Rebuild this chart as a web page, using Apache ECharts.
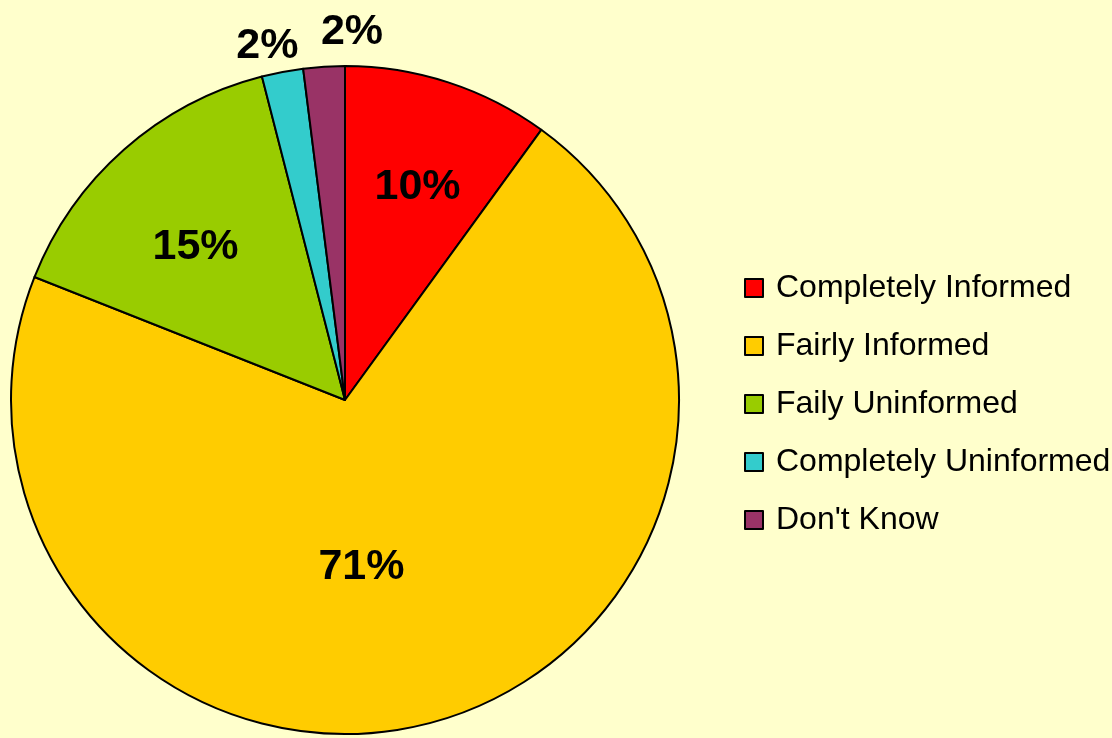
<!DOCTYPE html>
<html>
<head>
<meta charset="utf-8">
<script src="https://cdn.jsdelivr.net/npm/echarts@6/dist/echarts.min.js"></script>
<style>
  html, body { margin: 0; padding: 0; background: #FFFFCC; }
  #chart { width: 1112px; height: 738px; }
</style>
</head>
<body>
<div id="chart"></div>
<script>
const categories = ['Completely Informed', 'Fairly Informed', 'Faily Uninformed', 'Completely Uninformed', "Don't Know"];
const values = [10, 71, 15, 2, 2];
const colors = ['#FF0000', '#FFCC00', '#99CC00', '#33CCCC', '#993366'];

// label nudges (px) so the percentages sit where the original puts them
const labelShift = [[20, -51], [-31, 4], [-37, -25], [21, -26], [64, -35]];
const outsideIdx = [3, 4];

const chart = echarts.init(document.getElementById('chart'));

chart.setOption({
  backgroundColor: '#FFFFCC',
  textStyle: { fontFamily: 'Liberation Sans, Arial, sans-serif' },
  legend: {
    orient: 'vertical',
    left: 739,
    top: 267,
    icon: 'rect',
    itemWidth: 18,
    itemHeight: 18,
    itemGap: 26,
    itemStyle: { borderColor: '#000', borderWidth: 2 },
    textStyle: { fontSize: 32, color: '#000', padding: [0, 0, 0, 8] },
    data: categories
  },
  series: [{
    type: 'pie',
    center: [345, 400],
    radius: 334,
    startAngle: 90,
    clockwise: true,
    animation: false,
    avoidLabelOverlap: false,
    itemStyle: { borderColor: '#000', borderWidth: 2 },
    label: {
      position: 'inside',
      formatter: '{c}%',
      fontSize: 43,
      fontWeight: 'bold',
      color: '#000'
    },
    labelLine: { show: false },
    labelLayout: function (p) {
      const s = labelShift[p.dataIndex];
      return { dx: s[0], dy: s[1] };
    },
    emphasis: { disabled: true },
    data: categories.map((name, i) => ({
      name: name,
      value: values[i],
      itemStyle: { color: colors[i] },
      label: outsideIdx.includes(i) ? { position: 'outside' } : undefined,
      labelLine: outsideIdx.includes(i) ? { show: false, length: 0, length2: 0 } : undefined
    }))
  }]
});
</script>
</body>
</html>
